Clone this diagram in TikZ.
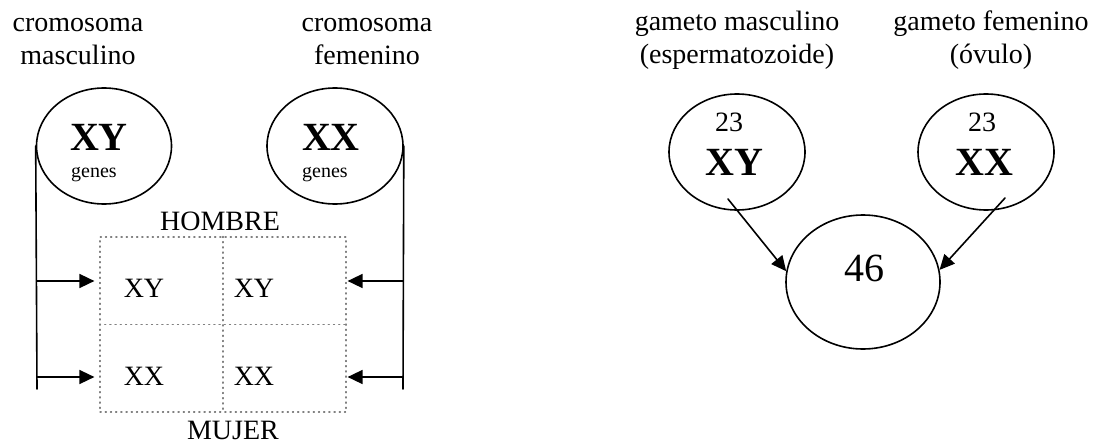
\documentclass[tikz,border=0pt]{standalone}
\usepackage{fontspec}
\setmainfont{Liberation Serif}
\usetikzlibrary{arrows.meta,shapes.geometric}
\tikzset{
  cell/.style={ellipse, draw, line width=0.8pt, inner sep=0pt},
  lbl/.style={align=center, font=\fontsize{14}{16.5}\selectfont},
  big/.style={font=\fontsize{20}{22}\selectfont\bfseries, inner sep=0pt},
  txt/.style={font=\fontsize{14}{16}\selectfont, inner sep=0pt},
  arr/.style={line width=0.8pt, -{Triangle[length=7.5pt,width=7pt]}},
  grid/.style={draw=gray, dotted, line width=0.6pt},
  every picture/.style={line cap=round, line join=round}
}

\begin{document}
\begin{tikzpicture}[x=0.5pt, y=-0.5pt]
  \useasboundingbox (0,0) rectangle (1096,444);

  % chromosomes
  \node[lbl] (lm) at (78,42) {cromosoma\\masculino};
  \node[lbl] (lf) at (367,42) {cromosoma\\femenino};
  \node[cell, minimum width=67.5pt, minimum height=58pt] (xy) at (104,146) {};
  \node[cell, minimum width=68pt, minimum height=58pt] (xx) at (335,146) {};
  \node[big] (xyt) at (99,137) {XY};
  \node[big] (xxt) at (331,137) {XX};
  \node[font=\fontsize{10}{12}\selectfont, inner sep=0pt] (xyg) at (94,175) {genes};
  \node[font=\fontsize{10}{12}\selectfont, inner sep=0pt] (xxg) at (325,175) {genes};

  % punnett table
  \node[grid, minimum width=123pt, minimum height=87.5pt, inner sep=0pt] (tab) at (223,324.5) {};
  \draw[grid] (tab.north) -- (tab.south);
  \draw[grid] (tab.west) -- (tab.east);
  \node[txt] (hom) at (220,221) {HOMBRE};
  \node[txt] (muj) at (233,430) {MUJER};
  \node[txt] (c11) at (144,288) {XY};
  \node[txt] (c12) at (254,288) {XY};
  \node[txt] (c21) at (144,376) {XX};
  \node[txt] (c22) at (254,376) {XX};

  % side lines and arrows
  \coordinate (lb) at (37,389);
  \coordinate (rb) at (403,389);
  \coordinate (l1) at (37,281);
  \coordinate (l2) at (37,377);
  \coordinate (r1) at (403,281);
  \coordinate (r2) at (403,377);
  \draw[line width=0.8pt] (xy.west) -- (lb);
  \draw[line width=0.8pt] (xx.east) -- (rb);
  \draw[arr, shorten >=2.5pt] (l1) -- (l1 -| tab.west);
  \draw[arr, shorten >=2.5pt] (l2) -- (l2 -| tab.west);
  \draw[arr, shorten >=0.5pt] (r1) -- (r1 -| tab.east);
  \draw[arr, shorten >=0.5pt] (r2) -- (r2 -| tab.east);

  % gametes
  \node[lbl] (gm) at (737,40) {gameto masculino\\(espermatozoide)};
  \node[lbl] (gf) at (991,40) {gameto femenino\\(óvulo)};
  \node[cell, minimum width=68pt, minimum height=58pt] (esp) at (737,152) {};
  \node[cell, minimum width=68pt, minimum height=58pt] (ovu) at (986,152) {};
  \node[txt] (n1) at (729,122) {23};
  \node[txt] (n2) at (982,122) {23};
  \node[big] (g1) at (734,162) {XY};
  \node[big] (g2) at (984,162) {XX};
  \node[cell, minimum width=77pt, minimum height=67pt] (cig) at (863,282) {};
  \node[font=\fontsize{20}{22}\selectfont, inner sep=0pt] (cn) at (864,268) {46};

  \coordinate (s1) at (728,199);
  \coordinate (s2) at (1005,198);
  \draw[arr] (s1) -- (cig.172);
  \draw[arr] (s2) -- (cig.9);
\end{tikzpicture}
\end{document}
